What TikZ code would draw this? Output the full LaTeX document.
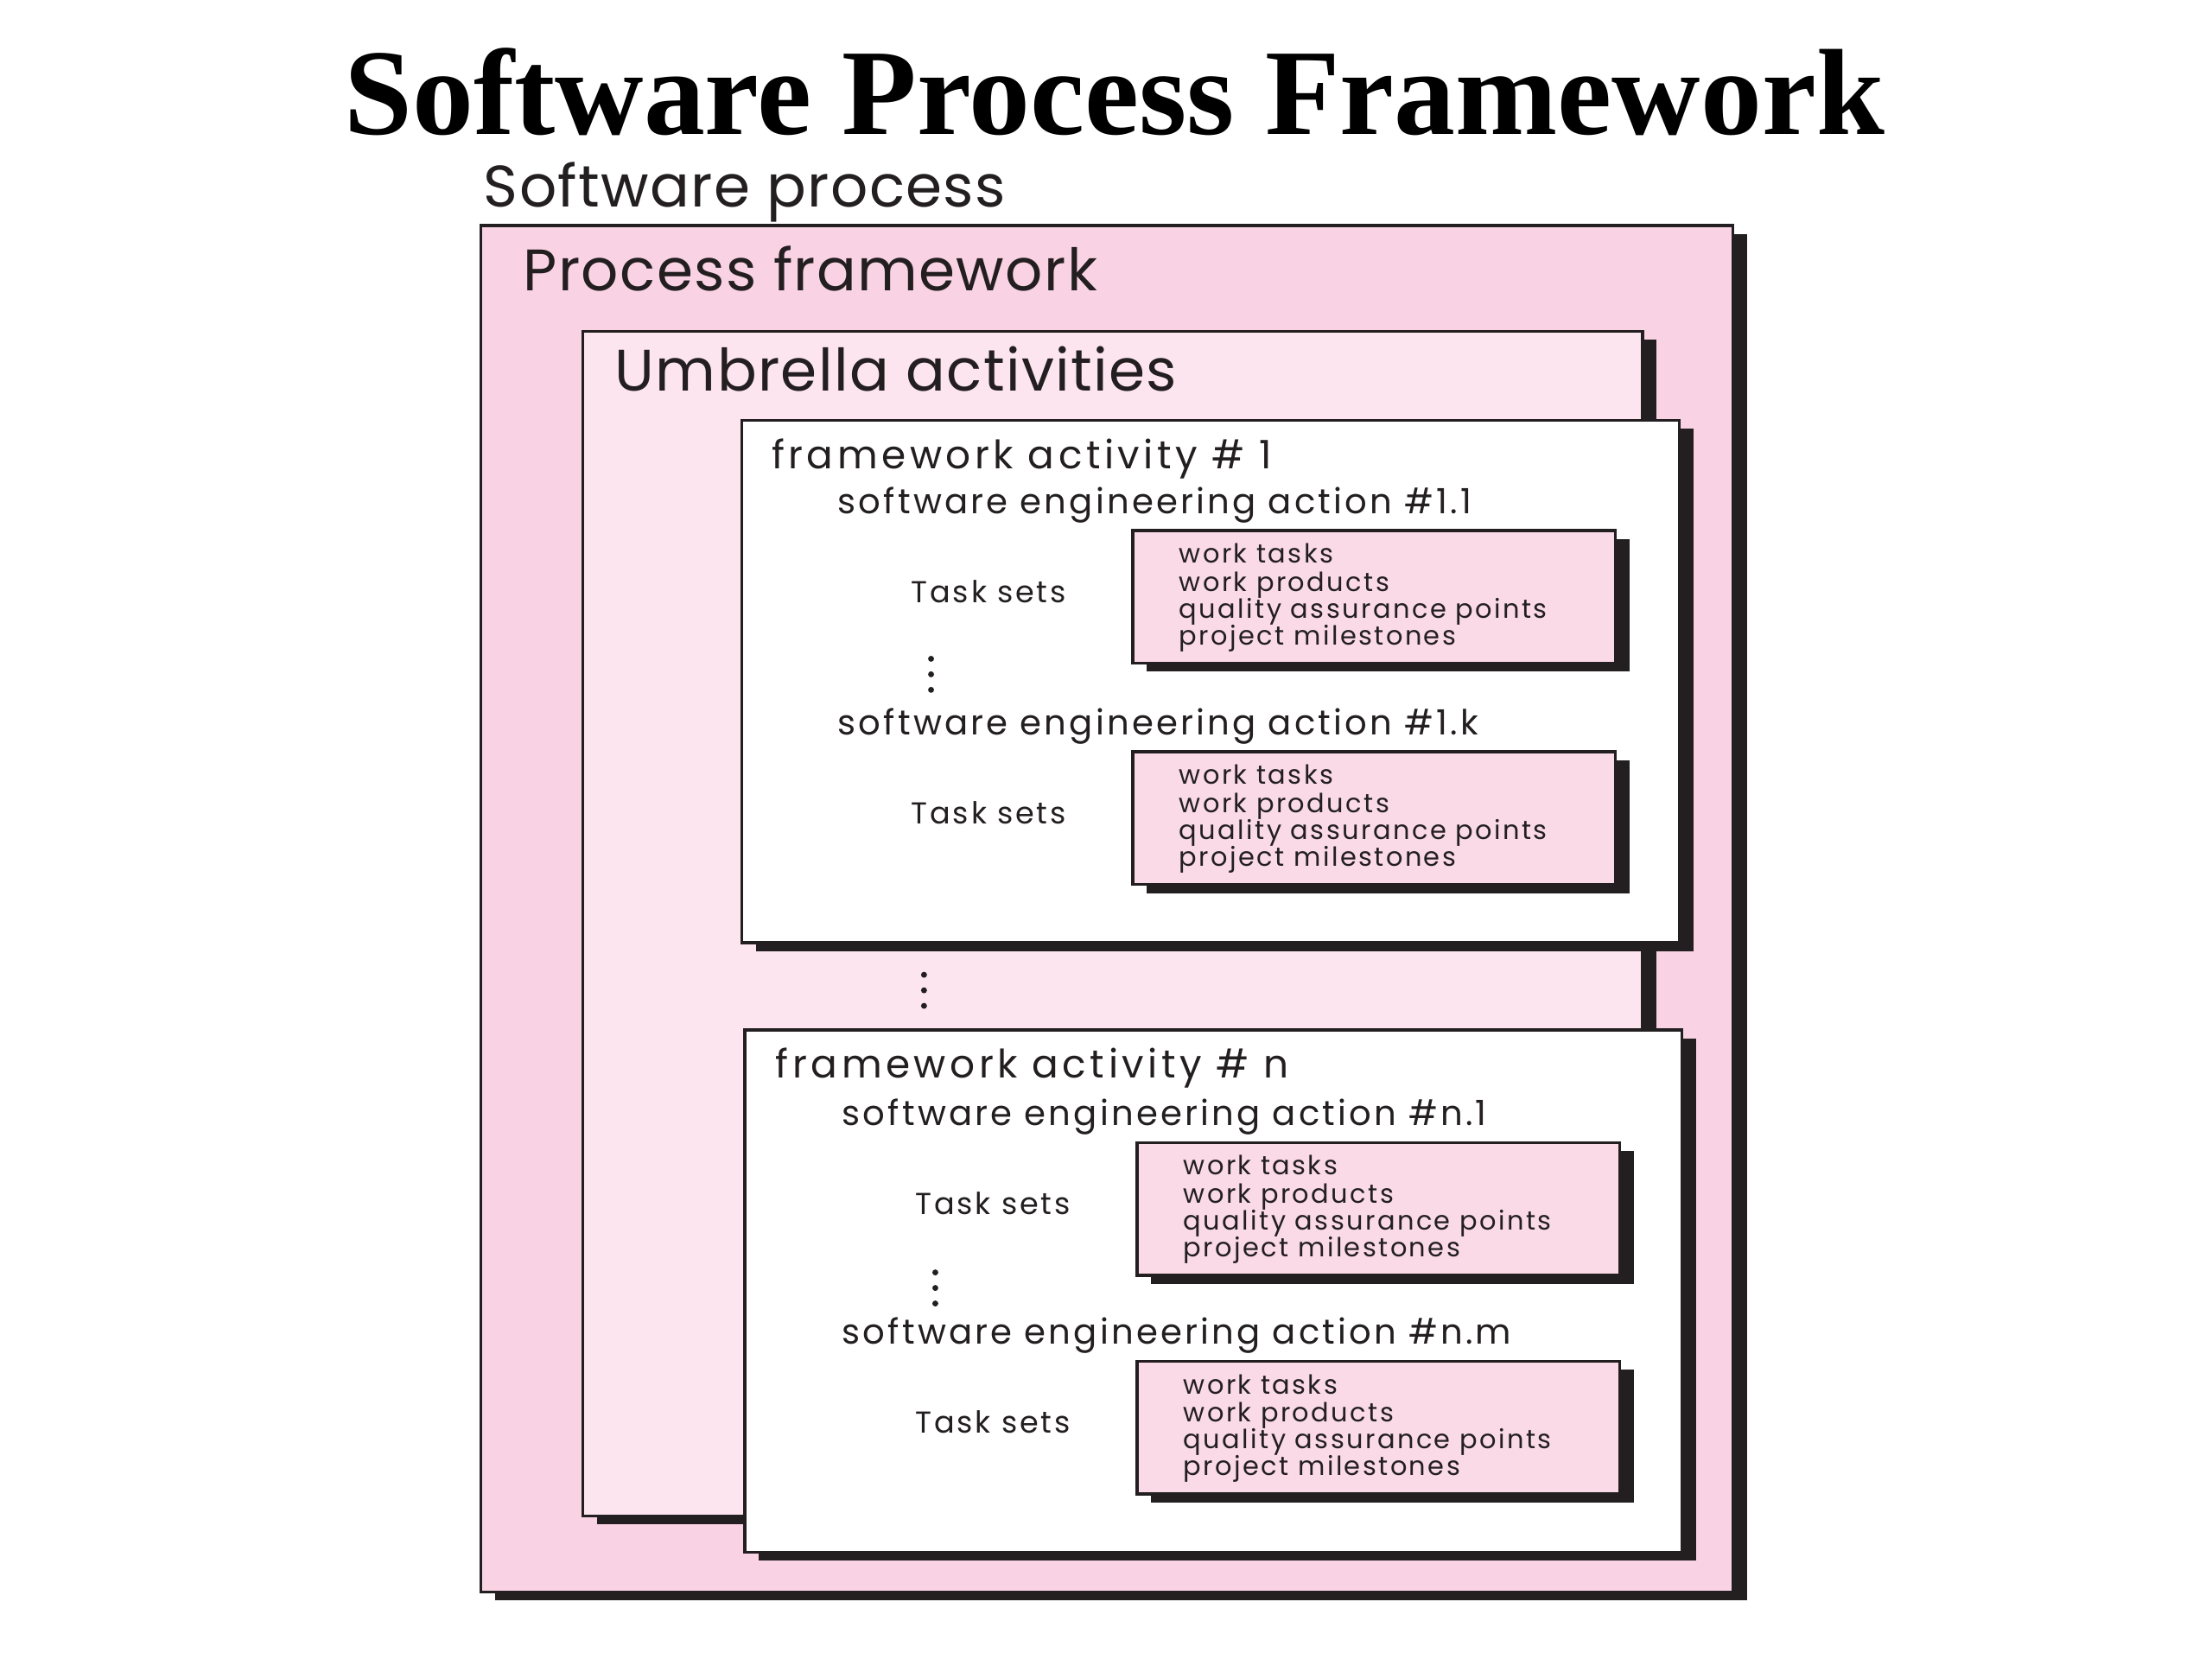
\documentclass[tikz,border=0pt]{standalone}
\usepackage{fontspec}
\setmainfont{Liberation Serif}
\newfontfamily\dfont{Poppins}
\usetikzlibrary{shadows}
\definecolor{ink}{HTML}{231F20}
\definecolor{pinkA}{HTML}{F9D2E4}
\definecolor{pinkB}{HTML}{FDE5EF}
\definecolor{pinkC}{HTML}{FADAE7}
\tikzset{
  shbox/.style={draw=ink, line width=0.6pt, inner sep=0pt, outer sep=0pt, anchor=north west,
    drop shadow={shadow xshift=0.1cm, shadow yshift=-0.06cm, fill=ink, opacity=1}},
  smallbox/.style={shbox, fill=pinkC, minimum width=3.42cm, minimum height=0.94cm},
  lbl/.style={anchor=base west, inner sep=0pt, outer sep=0pt, text=ink},
  bigtxt/.style={lbl, font=\dfont\fontsize{11.8}{14}\selectfont\addfontfeature{LetterSpace=2}},
  fwtxt/.style={lbl, font=\dfont\fontsize{7.9}{9}\selectfont\addfontfeature{LetterSpace=10}},
  acttxt/.style={lbl, font=\dfont\fontsize{7.0}{8}\selectfont\addfontfeature{LetterSpace=8}},
  tasktxt/.style={lbl, font=\dfont\fontsize{6.1}{8}\selectfont\addfontfeature{LetterSpace=8}},
  itemtxt/.style={lbl, font=\dfont\fontsize{5.3}{6}\selectfont\addfontfeature{LetterSpace=8}},
}
\newcommand{\actblk}[4]{%
  \node[acttxt] (#1h) at (594+#2,#3) {#4};
  \node[tasktxt] (#1t) at (646+#2,#3+63) {Task sets};
  \node[smallbox] (#1b) at (803+#2,#3+12) {};
  \node[itemtxt] (#1i1) at (836+#2,#3+35) {work tasks};
  \node[itemtxt] (#1i2) at (836+#2,#3+55) {work products};
  \node[itemtxt] (#1i3) at (836+#2,#3+74) {quality assurance points};
  \node[itemtxt] (#1i4) at (836+#2,#3+93) {project milestones};
}
\newcommand{\vdotsat}[2]{%
  \fill[ink] (#1,#2) circle[radius=0.6pt] (#1,#2+11) circle[radius=0.6pt] (#1,#2+22) circle[radius=0.6pt];
}
\begin{document}
\begin{tikzpicture}[x=0.01cm, y=-0.01cm]
\useasboundingbox (0,0) rectangle (1568,1176);
\node[anchor=base, inner sep=0pt, font=\bfseries\fontsize{24.7}{28}\selectfont] (title) at (790,95) {Software Process Framework};
\node[bigtxt] (sp) at (343,147) {Software process};
\node[shbox, fill=pinkA, minimum width=8.87cm, minimum height=9.68cm] (outer) at (341,160) {};
\node[bigtxt] (pf) at (371,206) {Process framework};
\node[shbox, fill=pinkB, minimum width=7.51cm, minimum height=8.39cm] (umb) at (413,235) {};
\node[bigtxt] (ua) at (436,277) {Umbrella activities};
\node[shbox, fill=white, minimum width=6.64cm, minimum height=3.70cm] (fw1) at (526,298) {};
\node[fwtxt] (fw1t) at (547,332) {framework activity \# 1};
\actblk{a}{0}{364}{software engineering action \#1.1}
\vdotsat{660}{467}
\actblk{b}{0}{521}{software engineering action \#1.k}
\vdotsat{655}{691}
\node[shbox, fill=white, minimum width=6.64cm, minimum height=3.70cm] (fwn) at (528,730) {};
\node[fwtxt] (fwnt) at (550,764) {framework activity \# n};
\actblk{c}{3}{798}{software engineering action \#n.1}
\vdotsat{663}{902}
\actblk{d}{3}{953}{software engineering action \#n.m}
\end{tikzpicture}
\end{document}
